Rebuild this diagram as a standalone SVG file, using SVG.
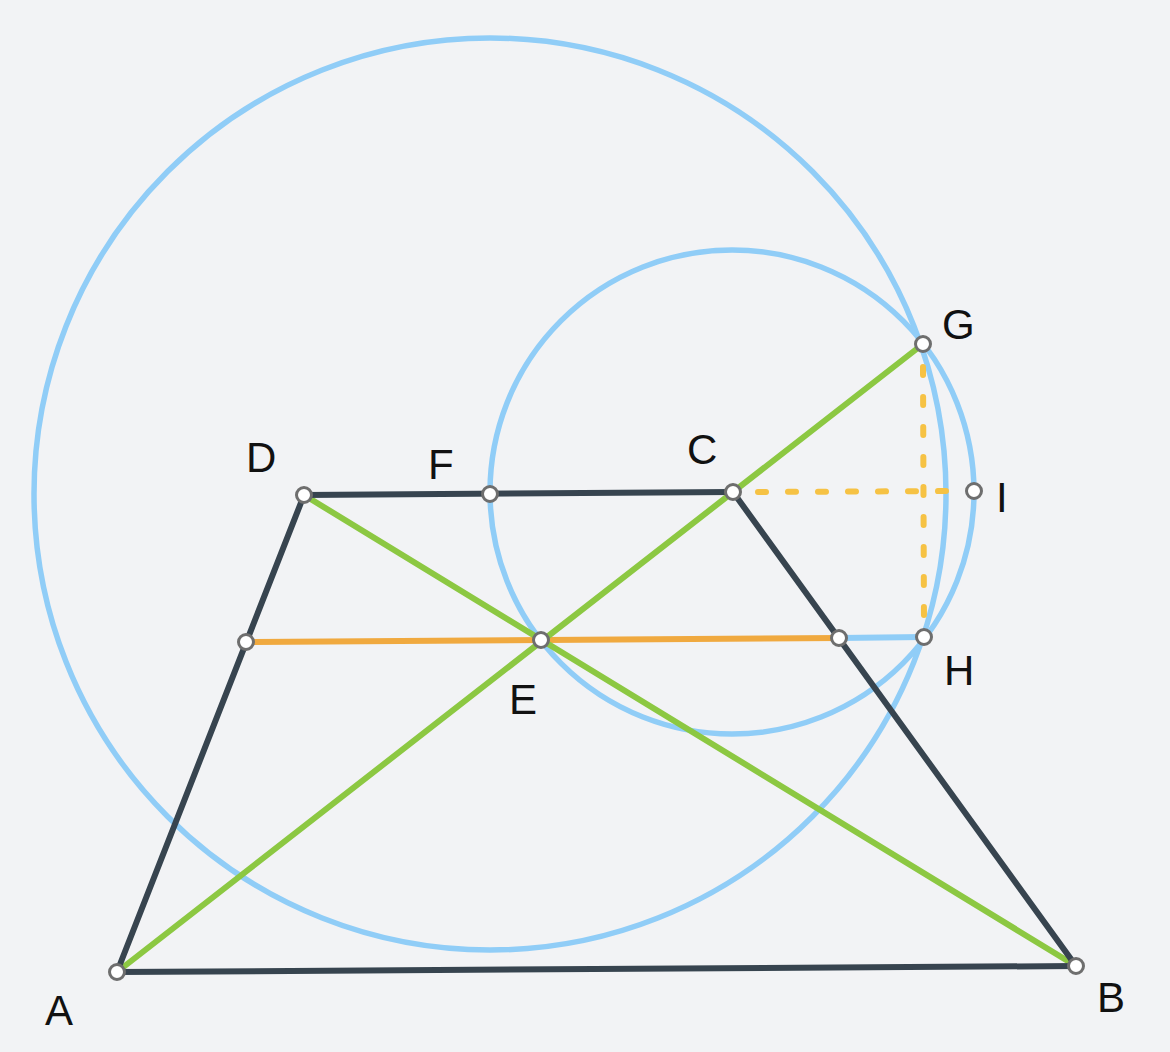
<svg xmlns="http://www.w3.org/2000/svg" width="1170" height="1052" viewBox="0 0 1170 1052">
<style>
.circ{fill:none;stroke:#90cdf7;stroke-width:5.5}
.edge{stroke:#37444f;stroke-width:6;fill:none;stroke-linecap:round}
.green{stroke:#8cc842;stroke-width:6;fill:none;stroke-linecap:round}
.orange{stroke:#f0a93f;stroke-width:6;fill:none}
.blue{stroke:#90cdf7;stroke-width:6;fill:none}
.dash{stroke:#f6c244;stroke-width:6;fill:none;stroke-dasharray:8 22;stroke-linecap:round}
.pt{fill:#ffffff;stroke:#6e6e6e;stroke-width:3}
.lbl{font-family:"Liberation Sans",Arial,sans-serif;font-size:42px;fill:#111111}
</style>
<rect width="1170" height="1052" fill="#f2f3f5"/>
<g id="connectors">
<circle class="circ" cx="490" cy="494" r="456"/>
<circle class="circ" cx="732" cy="492" r="242"/>
<line class="dash" x1="758" y1="492" x2="962" y2="491"/>
<line class="dash" x1="923" y1="367" x2="924" y2="626"/>
<line class="orange" x1="246" y1="642" x2="839" y2="638"/>
<line class="blue" x1="839" y1="638" x2="924" y2="637"/>
<line class="green" x1="117" y1="972" x2="923" y2="344"/>
<line class="green" x1="304" y1="495" x2="1076" y2="966"/>
<line class="edge" x1="117" y1="972" x2="1076" y2="966"/>
<line class="edge" x1="1076" y1="966" x2="733" y2="492"/>
<line class="edge" x1="733" y1="492" x2="304" y2="495"/>
<line class="edge" x1="304" y1="495" x2="117" y2="972"/>
</g>
<g id="A"><circle class="pt" cx="117" cy="972" r="7.5"/><text class="lbl" x="45" y="1025">A</text></g>
<g id="B"><circle class="pt" cx="1076" cy="966" r="7.5"/><text class="lbl" x="1097" y="1012">B</text></g>
<g id="C"><circle class="pt" cx="733" cy="492" r="7.5"/><text class="lbl" x="687" y="464">C</text></g>
<g id="D"><circle class="pt" cx="304" cy="495" r="7.5"/><text class="lbl" x="246" y="472">D</text></g>
<g id="E"><circle class="pt" cx="541" cy="640" r="7.5"/><text class="lbl" x="509" y="714">E</text></g>
<g id="F"><circle class="pt" cx="490" cy="494" r="7.5"/><text class="lbl" x="428" y="479">F</text></g>
<g id="G"><circle class="pt" cx="923" cy="344" r="7.5"/><text class="lbl" x="942" y="339">G</text></g>
<g id="H"><circle class="pt" cx="924" cy="637" r="7.5"/><text class="lbl" x="944" y="685">H</text></g>
<g id="I"><circle class="pt" cx="974" cy="491" r="7.5"/><text class="lbl" x="996" y="512">I</text></g>
<g id="M1"><circle class="pt" cx="246" cy="642" r="7.5"/></g>
<g id="M2"><circle class="pt" cx="839" cy="638" r="7.5"/></g>
</svg>
